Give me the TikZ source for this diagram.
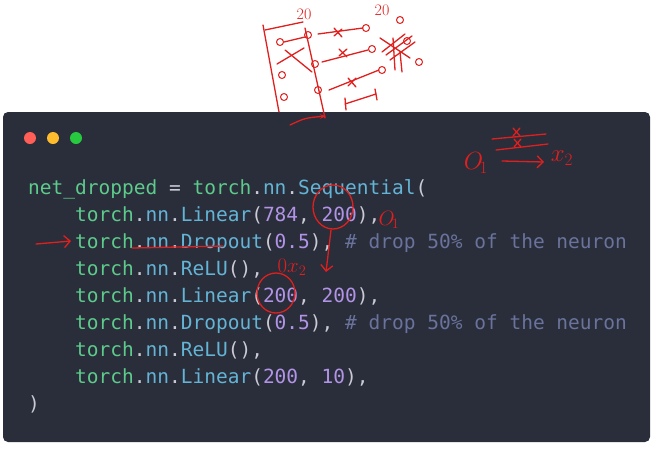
\documentclass[tikz,border=0pt]{standalone}
\usepackage{fontspec}
\setmonofont{DejaVu Sans Mono}
\usetikzlibrary{arrows.meta}
\definecolor{panel}{HTML}{2A2D3A}
\definecolor{cg}{HTML}{5DCB8C}
\definecolor{cb}{HTML}{64B4D6}
\definecolor{cp}{HTML}{B294E6}
\definecolor{cc}{HTML}{6A739C}
\definecolor{cw}{HTML}{C9CAD4}
\definecolor{ink}{HTML}{E0201E}
\definecolor{dr}{HTML}{FF5F56}
\definecolor{dy}{HTML}{FFBD2E}
\definecolor{dg}{HTML}{27C93F}
\newcommand{\G}[1]{\textcolor{cg}{#1}}
\newcommand{\B}[1]{\textcolor{cb}{#1}}
\newcommand{\Pn}[1]{\textcolor{cp}{#1}}
\newcommand{\W}[1]{\textcolor{cw}{#1}}
\newcommand{\Cm}[1]{\textcolor{cc}{#1}}
\begin{document}
\begin{tikzpicture}[x=1pt,y=-1pt,
  code/.style={anchor=base west,inner sep=0pt,font=\ttfamily\fontsize{19.5}{20}\selectfont},
  pen/.style={ink,line width=1.3pt,line cap=round,line join=round},
  hand/.style={ink,inner sep=0pt,font=\fontsize{24}{24}\selectfont}]
\useasboundingbox (0,0) rectangle (658,448);
\fill[white] (0,0) rectangle (658,448);
\fill[panel,rounded corners=5pt] (3,112) rectangle (650,442);
\fill[dr] (30,138) circle (6);
\fill[dy] (53,138) circle (6);
\fill[dg] (76,138) circle (6);
\node[code] (l1) at (28,194) {\G{net\_dropped} \W{=} \G{torch}\W{.}\B{nn}\W{.}\B{Sequential}\W{(}};
\node[code] (l2) at (28,221) {\phantom{xxxx}\G{torch}\W{.}\B{nn}\W{.}\B{Linear}\W{(}\Pn{784}\W{, }\Pn{200}\W{),}};
\node[code] (l3) at (28,248) {\phantom{xxxx}\G{torch}\W{.}\B{nn}\W{.}\B{Dropout}\W{(}\Pn{0.5}\W{),}\phantom{x}\Cm{\# drop 50\% of the neuron}};
\node[code] (l4) at (28,275) {\phantom{xxxx}\G{torch}\W{.}\B{nn}\W{.}\B{ReLU}\W{(),}};
\node[code] (l5) at (28,302) {\phantom{xxxx}\G{torch}\W{.}\B{nn}\W{.}\B{Linear}\W{(}\Pn{200}\W{, }\Pn{200}\W{),}};
\node[code] (l6) at (28,329) {\phantom{xxxx}\G{torch}\W{.}\B{nn}\W{.}\B{Dropout}\W{(}\Pn{0.5}\W{),}\phantom{x}\Cm{\# drop 50\% of the neuron}};
\node[code] (l7) at (28,356) {\phantom{xxxx}\G{torch}\W{.}\B{nn}\W{.}\B{ReLU}\W{(),}};
\node[code] (l8) at (28,383) {\phantom{xxxx}\G{torch}\W{.}\B{nn}\W{.}\B{Linear}\W{(}\Pn{200}\W{, }\Pn{10}\W{),}};
\node[code] (l9) at (28,410) {\W{)}};
% top sketch
\draw[pen] (263,25) -- (279,112);
\draw[pen] (265,30) -- (303,22);
\draw[pen] (305,28) -- (325,118);
\draw[pen,-{Stealth[length=6pt]}] (290,125) .. controls (305,118) .. (326,116);
\node[hand,font=\fontsize{16}{16}\selectfont] (t20a) at (304,14) {20};
\node[hand,font=\fontsize{16}{16}\selectfont] (t20b) at (382,10) {20};
\foreach \p in {(280,42),(282,75),(284,97),(308,35),(315,64),(318,90),(366,28),(372,49),(382,70),(400,20),(407,41),(419,62)}
  \draw[pen,line width=1pt] \p circle (3.5);
\draw[pen] (284,42) -- (305,37);
\draw[pen] (277,64) -- (304,48);
\draw[pen] (285,50) -- (312,72);
\draw[pen] (318,34) -- (363,28);
\draw[pen] (322,62) -- (368,50);
\draw[pen] (329,90) -- (379,70);
\draw[pen] (334,28) -- (342,37); \draw[pen] (334,36) -- (342,29);
\draw[pen] (339,49) -- (347,57); \draw[pen] (339,56) -- (347,49);
\draw[pen] (348,78) -- (356,87); \draw[pen] (348,86) -- (356,78);
\draw[pen] (380,38) -- (410,58); \draw[pen] (382,52) -- (405,34);
\draw[pen] (386,55) -- (412,36); \draw[pen] (390,60) -- (415,42);
\draw[pen] (393,38) -- (395,70); \draw[pen] (400,52) -- (402,72);
\draw[pen] (345,104) -- (376,94);
\draw[pen] (345,98) -- (346,110); \draw[pen] (375,89) -- (377,100);
% panel annotations
\node[hand] (o1a) at (476,163) {$O_{\!1}$};
\node[hand] (x2a) at (562,158) {$x_2$};
\draw[pen,-{Straight Barb[length=6pt]}] (502,161) -- (544,162);
\draw[pen] (492,139) -- (546,134);
\draw[pen] (496,150) -- (548,144);
\draw[pen] (513,128) -- (520,136); \draw[pen] (513,136) -- (520,128);
\draw[pen] (514,139) -- (521,147); \draw[pen] (514,147) -- (521,139);
\draw[pen] (333,207) ellipse (20 and 22);
\node[hand,font=\fontsize{20}{20}\selectfont] (o1b) at (389,220) {$O_{\!1}$};
\draw[pen,-{Straight Barb[length=6pt]}] (331,230) -- (326,272);
\draw[pen] (132,248) -- (223,246);
\draw[pen,-{Straight Barb[length=6pt]}] (36,244) -- (71,241);
\node[hand,font=\fontsize{20}{20}\selectfont] (ox2) at (292,267) {$0x_2$};
\draw[pen] (276,293) ellipse (19 and 20);
\end{tikzpicture}
\end{document}
